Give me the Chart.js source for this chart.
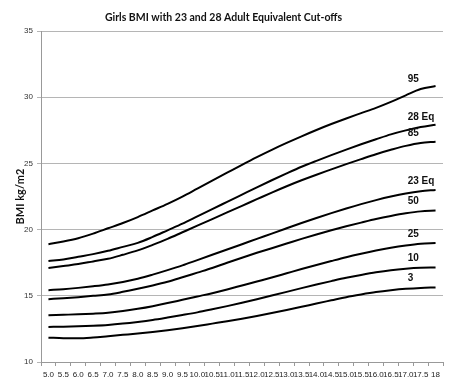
<!DOCTYPE html>
<html>
<head>
<meta charset="utf-8">
<script src="https://cdn.jsdelivr.net/npm/chart.js@4/dist/chart.umd.min.js"></script>
<style>
  html, body { margin: 0; padding: 0; background: #fff; }
  #wrap { width: 450px; height: 390px; }
</style>
</head>
<body>
<div id="wrap"><canvas id="bmi"></canvas></div>
<script>
// ages (x categories)
const ages = ['5.0','5.5','6.0','6.5','7.0','7.5','8.0','8.5','9.0','9.5','10.0','10.5','11.0','11.5','12.0','12.5','13.0','13.5','14.0','14.5','15.0','15.5','16.0','16.5','17.0','17.5','18'];

// BMI curves
const p95   = [18.9,19.1,19.35,19.7,20.1,20.5,20.95,21.45,21.95,22.5,23.1,23.7,24.3,24.9,25.48,26.03,26.55,27.05,27.53,27.98,28.4,28.8,29.2,29.65,30.15,30.62,30.85];
const eq28  = [17.63,17.75,17.95,18.15,18.4,18.7,19.0,19.45,19.95,20.45,21.0,21.55,22.1,22.65,23.2,23.73,24.25,24.75,25.2,25.63,26.05,26.45,26.83,27.2,27.5,27.75,27.93];
const p85   = [17.1,17.25,17.4,17.6,17.8,18.1,18.43,18.85,19.3,19.8,20.3,20.8,21.3,21.8,22.3,22.8,23.28,23.73,24.15,24.55,24.95,25.33,25.7,26.03,26.33,26.55,26.64];
const eq23  = [15.43,15.5,15.6,15.72,15.86,16.05,16.29,16.6,16.94,17.3,17.7,18.1,18.5,18.9,19.3,19.7,20.1,20.5,20.88,21.25,21.6,21.93,22.23,22.5,22.73,22.9,23.0];
const p50   = [14.75,14.82,14.9,15.0,15.1,15.3,15.53,15.78,16.06,16.4,16.75,17.1,17.5,17.88,18.25,18.6,18.95,19.3,19.63,19.95,20.25,20.53,20.8,21.03,21.23,21.38,21.44];
const p25   = [13.54,13.57,13.6,13.65,13.72,13.85,14.02,14.22,14.45,14.7,14.95,15.2,15.48,15.78,16.08,16.38,16.7,17.02,17.33,17.63,17.92,18.18,18.42,18.63,18.8,18.93,18.99];
const p10   = [12.65,12.67,12.7,12.74,12.8,12.9,13.03,13.18,13.36,13.55,13.75,13.98,14.22,14.47,14.74,15.02,15.3,15.58,15.85,16.11,16.36,16.58,16.78,16.94,17.05,17.12,17.14];
const p3    = [11.84,11.8,11.79,11.85,11.95,12.05,12.15,12.27,12.4,12.55,12.72,12.9,13.08,13.27,13.48,13.7,13.93,14.17,14.42,14.66,14.9,15.1,15.28,15.42,15.53,15.6,15.63];

const seriesNames = ['95','28 Eq','85','23 Eq','50','25','10','3'];
const seriesData = [p95, eq28, p85, eq23, p50, p25, p10, p3];
const yTitle = 'BMI kg/m2';

const datasets = seriesData.map((vals, i) => ({
    label: seriesNames[i],
    data: vals,
    borderColor: '#000',
    borderWidth: 2,
    pointRadius: 0,
    fill: false,
    tension: 0.4,
    cubicInterpolationMode: 'monotone'
}));

// 선 끝 라벨 + y축 제목
const endLabels = {
    id: 'endLabels',
    afterDatasetsDraw(chart) {
        const ctx = chart.ctx;
        ctx.save();
        ctx.font = 'bold 10px "Liberation Sans", Arial, sans-serif';
        ctx.fillStyle = '#111';
        ctx.textAlign = 'left';
        ctx.textBaseline = 'bottom';
        chart.data.datasets.forEach((ds, i) => {
            const meta = chart.getDatasetMeta(i);
            const pt = meta.data[25];
            ctx.fillText(ds.label, pt.x - 13, pt.y - 5);
        });

        const area = chart.chartArea;
        ctx.translate(area.left - 21, (area.top + area.bottom) / 2);
        ctx.rotate(-Math.PI / 2);
        ctx.font = 'bold 11px Lato, "Open Sans", sans-serif';
        ctx.textAlign = 'center';
        ctx.textBaseline = 'middle';
        ctx.fillText(yTitle, 0, 0);
        ctx.restore();
    }
};

new Chart(document.getElementById('bmi'), {
    type: 'line',
    data: { labels: ages, datasets: datasets },
    options: {
        responsive: true,
        maintainAspectRatio: false,
        animation: false,
        layout: { padding: { left: 4, right: 7, top: 0, bottom: 0 } },
        scales: {
            x: {
                offset: true,
                grid: { display: true, drawOnChartArea: false, offset: true, tickLength: 4, color: '#999' },
                border: { color: '#999' },
                ticks: {
                    autoSkip: false, maxRotation: 0, minRotation: 0, padding: 4,
                    color: '#222', font: { family: '"Liberation Sans", sans-serif', size: 8 }
                },
                afterFit(scale) { scale.height = 28; }
            },
            y: {
                min: 10, max: 35,
                ticks: {
                    stepSize: 5, padding: 4,
                    color: '#333', font: { family: '"Liberation Sans", sans-serif', size: 8 }
                },
                grid: { color: '#b5b5b5', tickLength: 4 },
                border: { color: '#999' },
                afterFit(scale) { scale.width = 37; }
            }
        },
        plugins: {
            legend: { display: false },
            tooltip: { enabled: false },
            title: {
                display: true,
                text: 'Girls BMI with 23 and 28 Adult Equivalent Cut-offs',
                color: '#111',
                font: { family: 'Lato, "Open Sans", sans-serif', size: 10.5, weight: 'bold' },
                padding: { top: 11, bottom: 7.5 }
            }
        }
    },
    plugins: [endLabels]
});
</script>
</body>
</html>
